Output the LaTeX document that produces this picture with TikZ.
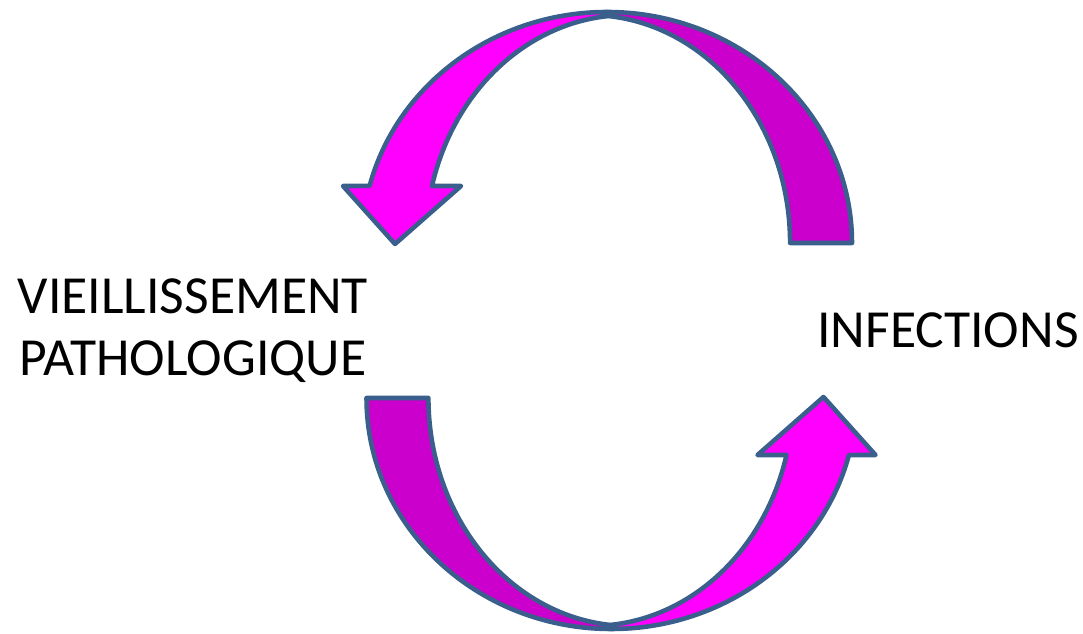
\documentclass[tikz,border=0pt]{standalone}
\usepackage{fontspec}
\setmainfont{Carlito}
\definecolor{bandlight}{HTML}{FF00FF}
\definecolor{banddark}{HTML}{CC00CC}
\definecolor{rim}{HTML}{3B5F8C}
\begin{document}
\begin{tikzpicture}[x=0.02cm, y=0.02cm]
\tikzstyle{every node}+=[inner sep=0pt, font=\fontsize{30.5}{36}\selectfont]
\tikzstyle{backband}=[draw=rim, fill=banddark, line width=2.6pt, line join=round]
\tikzstyle{frontband}=[draw=rim, fill=bandlight, line width=2.6pt, line join=round]
\useasboundingbox (0,0) rectangle (1083,-634);

\draw [backband] (852,-243) arc[start angle=0, end angle=90, x radius=245, y radius=231] -- (608,-16) arc[start angle=84.6, end angle=0, x radius=201, y radius=228] -- cycle;
\draw [frontband] (607,-12) arc[start angle=90, end angle=165.7, x radius=245, y radius=231] -- (343,-186) -- (395,-244) -- (461,-186) -- (432,-186) arc[start angle=165.5, end angle=95.4, x radius=201, y radius=228] -- cycle;

\begin{scope}[rotate around={180:(609.25,-320.5)}]
\draw [backband] (852,-243) arc[start angle=0, end angle=90, x radius=245, y radius=231] -- (608,-16) arc[start angle=84.6, end angle=0, x radius=201, y radius=228] -- cycle;
\draw [frontband] (607,-12) arc[start angle=90, end angle=165.7, x radius=245, y radius=231] -- (343,-186) -- (395,-244) -- (461,-186) -- (432,-186) arc[start angle=165.5, end angle=95.4, x radius=201, y radius=228] -- cycle;
\end{scope}

\node (vieil) [anchor=base] at (193,-314) {VIEILLISSEMENT};
\node (patho) [anchor=base] at (193,-376) {PATHOLOGIQUE};
\node (infect) [anchor=base] at (948,-348) {INFECTIONS};
\end{tikzpicture}
\end{document}
